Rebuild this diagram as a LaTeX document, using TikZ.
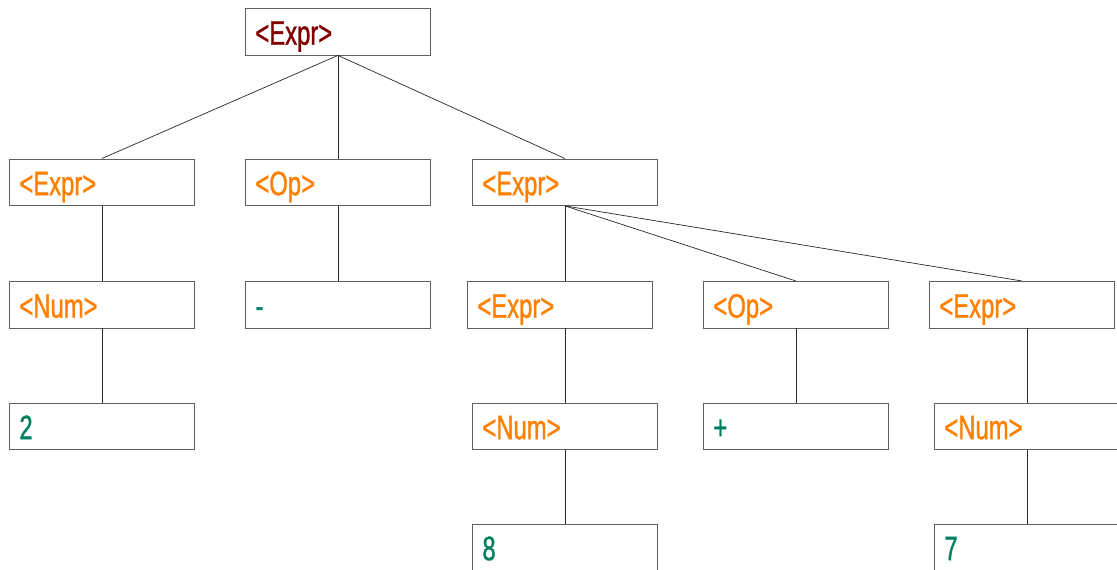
\documentclass[tikz,border=0pt]{standalone}
\usepackage{fontspec}
\newfontfamily\treefont{Liberation Sans}[FakeStretch=0.7,FakeBold=1]
\definecolor{rootred}{RGB}{128,0,0}
\definecolor{ntorange}{RGB}{255,128,0}
\definecolor{tgreen}{RGB}{0,128,96}
\definecolor{boxgray}{RGB}{95,95,95}
\definecolor{linegray}{RGB}{40,40,40}
\tikzset{
  tbox/.style={draw=boxgray, line width=0.9pt, anchor=north west,
    minimum width=185pt, minimum height=46.5pt, text width=165pt,
    inner xsep=10pt, inner ysep=0pt, align=left,
    text height=27pt, text depth=1pt,
    font=\treefont\fontsize{34}{34}\selectfont},
  rootnt/.style={tbox, text=rootred},
  nt/.style={tbox, text=ntorange},
  term/.style={tbox, text=tgreen},
  edge/.style={draw=linegray, line width=0.7pt}
}
\begin{document}
\begin{tikzpicture}[x=1pt,y=-1pt]
\clip (0,0) rectangle (1117,570);
\fill[white] (0,0) rectangle (1117,570);
\node[rootnt] (root) at (245,8) {<Expr>};
\node[nt] (e1) at (9,158.5) {<Expr>};
\node[nt] (op1) at (245,158.5) {<Op>};
\node[nt] (e2) at (472,158.5) {<Expr>};
\node[nt] (n1) at (9,281) {<Num>};
\node[term] (minus) at (245,281) {-};
\node[nt] (e3) at (467,281) {<Expr>};
\node[nt] (op2) at (703,281) {<Op>};
\node[nt] (e4) at (929,281) {<Expr>};
\node[term] (two) at (9,402.5) {2};
\node[nt] (n2) at (472,402.5) {<Num>};
\node[term] (plus) at (703,402.5) {+};
\node[nt] (n3) at (934,402.5) {<Num>};
\node[term] (eight) at (472,523.5) {8};
\node[term] (seven) at (934,523.5) {7};
\draw[edge] (root.south) -- (e1.north);
\draw[edge] (root.south) -- (op1.north);
\draw[edge] (root.south) -- (e2.north);
\draw[edge] (e1.south) -- (n1.north);
\draw[edge] (op1.south) -- (minus.north);
\draw[edge] (e2.south) -- (e2.south |- e3.north);
\draw[edge] (e2.south) -- (op2.north);
\draw[edge] (e2.south) -- (e4.north);
\draw[edge] (n1.south) -- (two.north);
\draw[edge] (n2.north |- e3.south) -- (n2.north);
\draw[edge] (op2.south) -- (plus.north);
\draw[edge] (n3.north |- e4.south) -- (n3.north);
\draw[edge] (n2.south) -- (eight.north);
\draw[edge] (n3.south) -- (seven.north);
\end{tikzpicture}
\end{document}
